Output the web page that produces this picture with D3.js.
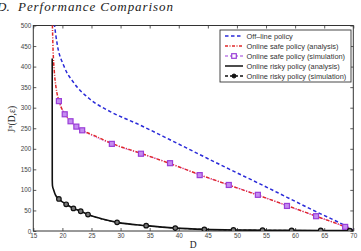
<!DOCTYPE html>
<html>
<head>
<meta charset="utf-8">
<script src="https://cdn.jsdelivr.net/npm/d3@7"></script>
<style>
  body { margin: 0; background: #fff; }
  svg { display: block; }
</style>
</head>
<body>
<script>
// Values
const xTicks = [15, 20, 25, 30, 35, 40, 45, 50, 55, 60, 65, 70]
const yTicks = [0, 50, 100, 150, 200, 250, 300, 350, 400, 450, 500]

const offlineD = [18.6, 19.1, 20.3, 22, 24.8, 28.3, 33, 38.5, 43.6, 48.6, 53.6, 58.6, 63.6, 68.6, 70]
const offlineJ = [505, 455, 400, 360, 320, 290, 260, 222, 186, 151, 117, 82, 47, 13, 2]

const safeD = [18.25, 18.4, 18.6, 18.9, 19.4, 20.4, 21.4, 22.4, 23.4, 25.5, 28.5, 33.5, 38.5, 43.6, 48.6, 53.6, 58.6, 63.6, 68.6, 70]
const safeJ = [520, 440, 390, 350, 317, 285, 267, 254, 245, 232, 213, 189, 164, 137, 112, 87, 62, 36, 10, 1]

const safeSimD = [19.4, 20.4, 21.4, 22.4, 23.4, 28.5, 33.5, 38.5, 43.6, 48.6, 53.6, 58.6, 63.6, 68.6]
const safeSimJ = [316, 284, 267, 254, 245, 212, 188, 165, 136, 112, 88, 61, 36, 10]

const riskyD = [18.25, 18.26, 18.3, 18.5, 18.8, 19.4, 20.65, 21.9, 23.15, 24.4, 26.9, 29.4, 34.4, 39.4, 44.4, 49.4, 54.4, 59.4, 64.4, 70]
const riskyJ = [420, 124, 110, 100, 88, 78, 65, 55, 48, 40, 29, 21, 13, 7, 4, 2.5, 2, 1.5, 1.2, 1]

const riskySimD = [19.4, 20.65, 21.9, 23.15, 24.4, 29.4, 34.4, 39.4, 44.4, 49.4, 54.4, 59.4, 64.4, 69.4]
const riskySimJ = [78, 65, 55, 48, 40, 21, 13, 7, 4, 2.5, 2, 1.5, 1.2, 1]

const legendLabels = [
  'Off\u2013line policy',
  'Online safe policy (analysis)',
  'Online safe policy (simulation)',
  'Online risky policy (analysis)',
  'Online risky policy (simulation)'
]

const blue = '#2a2ad8'
const red = '#e0282a'
const purple = '#9a3ed8'

const width = 361
const height = 251
const margin = {left: 33.3, right: 7.7, top: 25.5, bottom: 20}

const svg = d3.select('body').append('svg')
  .attr('width', width)
  .attr('height', height)

const xScale = d3.scaleLinear().domain([15, 70]).range([margin.left, width - margin.right])
const yScale = d3.scaleLinear().domain([0, 500]).range([height - margin.bottom, margin.top])

const zip = (xs, ys) => xs.map((x, i) => ({d: x, j: ys[i]}))

// title, the scan cuts it at the left
const titleFont = '"Liberation Serif", serif'
svg.append('text')
  .attr('x', -3)
  .attr('y', 10.5)
  .style('font-family', titleFont)
  .style('font-style', 'italic')
  .style('font-size', '13px')
  .attr('fill', '#222')
  .text('D.')
svg.append('text')
  .attr('x', 18)
  .attr('y', 10.5)
  .attr('textLength', 155)
  .style('font-family', titleFont)
  .style('font-style', 'italic')
  .style('font-size', '13px')
  .attr('fill', '#222')
  .text('Performance Comparison')

svg.append('clipPath').attr('id', 'plotclip')
  .append('rect')
  .attr('x', xScale(15))
  .attr('y', yScale(500))
  .attr('width', xScale(70) - xScale(15))
  .attr('height', yScale(0) - yScale(500))

// axes with inward ticks on all four sides
const tickLen = 3
const axisFont = '"Liberation Sans", Arial, sans-serif'

const gAxes = svg.append('g')
function styleAxis(g) {
  g.select('.domain').remove()
  g.selectAll('line').attr('stroke', '#333').attr('stroke-width', 0.8)
  g.selectAll('text').style('font-family', axisFont).style('font-size', '6.3px').attr('fill', '#444')
}

gAxes.append('g')
  .attr('transform', `translate(0,${yScale(0)})`)
  .call(d3.axisBottom(xScale).tickValues(xTicks).tickSize(-tickLen).tickPadding(2.5))
  .call(styleAxis)
gAxes.append('g')
  .attr('transform', `translate(0,${yScale(500)})`)
  .call(d3.axisTop(xScale).tickValues(xTicks).tickSize(-tickLen).tickFormat(''))
  .call(styleAxis)
gAxes.append('g')
  .attr('transform', `translate(${xScale(15)},0)`)
  .call(d3.axisLeft(yScale).tickValues(yTicks).tickSize(-tickLen).tickPadding(2))
  .call(styleAxis)
gAxes.append('g')
  .attr('transform', `translate(${xScale(70)},0)`)
  .call(d3.axisRight(yScale).tickValues(yTicks).tickSize(-tickLen).tickFormat(''))
  .call(styleAxis)

svg.append('rect')
  .attr('x', xScale(15))
  .attr('y', yScale(500))
  .attr('width', xScale(70) - xScale(15))
  .attr('height', yScale(0) - yScale(500))
  .attr('fill', 'none')
  .attr('stroke', '#333')
  .attr('stroke-width', 1)

// axis labels
svg.append('text')
  .attr('x', xScale(42.5))
  .attr('y', 248)
  .attr('text-anchor', 'middle')
  .style('font-family', titleFont)
  .style('font-size', '9.5px')
  .attr('fill', '#222')
  .text('D')

const yLab = svg.append('text')
  .attr('transform', `translate(15,${yScale(272)}) rotate(-90)`)
  .attr('text-anchor', 'middle')
  .style('font-family', titleFont)
  .style('font-size', '9.5px')
  .attr('fill', '#222')
yLab.append('tspan').text('J')
yLab.append('tspan').attr('dy', -3.5).style('font-size', '6.5px').text('\u03c0')
yLab.append('tspan').attr('dy', 3.5).text('(D,\u03b5)')

// curves
const line = d3.line()
  .curve(d3.curveMonotoneX)
  .x(p => xScale(p.d))
  .y(p => yScale(p.j))

const gPlot = svg.append('g').attr('clip-path', 'url(#plotclip)')

gPlot.append('path')
  .attr('d', line(zip(offlineD, offlineJ)))
  .attr('fill', 'none')
  .attr('stroke', blue)
  .attr('stroke-width', 1.5)
  .attr('stroke-dasharray', '3.5,2.5')

gPlot.append('path')
  .attr('d', line(zip(safeSimD, safeSimJ)))
  .attr('fill', 'none')
  .attr('stroke', '#d070f0')
  .attr('stroke-width', 1)
  .attr('stroke-dasharray', '1.5,1.5')

gPlot.append('path')
  .attr('d', line(zip(safeD, safeJ)))
  .attr('fill', 'none')
  .attr('stroke', red)
  .attr('stroke-width', 1.5)
  .attr('stroke-dasharray', '3.5,1.5,1,1.5')

gPlot.append('path')
  .attr('d', line(zip(riskyD, riskyJ)))
  .attr('fill', 'none')
  .attr('stroke', '#111')
  .attr('stroke-width', 1.6)

gPlot.append('path')
  .attr('d', line(zip(riskySimD, riskySimJ)))
  .attr('fill', 'none')
  .attr('stroke', '#111')
  .attr('stroke-width', 1)
  .attr('stroke-dasharray', '3,2')

const sq = 5
gPlot.selectAll('.sqMark')
  .data(zip(safeSimD, safeSimJ))
  .enter()
  .append('rect')
  .attr('class', 'sqMark')
  .attr('x', p => xScale(p.d) - sq / 2)
  .attr('y', p => yScale(p.j) - sq / 2)
  .attr('width', sq)
  .attr('height', sq)
  .attr('fill', '#c48cf0')
  .attr('stroke', purple)
  .attr('stroke-width', 1.2)

gPlot.selectAll('.ciMark')
  .data(zip(riskySimD, riskySimJ))
  .enter()
  .append('circle')
  .attr('class', 'ciMark')
  .attr('cx', p => xScale(p.d))
  .attr('cy', p => yScale(p.j))
  .attr('r', 2.3)
  .attr('fill', '#777')
  .attr('stroke', '#111')
  .attr('stroke-width', 1.2)

// legend
const lx = 220, ly = 30, lw = 131, lh = 52, rowH = 10
const gLeg = svg.append('g')
gLeg.append('rect')
  .attr('x', lx).attr('y', ly).attr('width', lw).attr('height', lh)
  .attr('fill', '#fff').attr('stroke', '#333').attr('stroke-width', 0.9)

const rows = gLeg.selectAll('.legRow')
  .data(legendLabels)
  .enter()
  .append('g')
  .attr('class', 'legRow')
  .attr('transform', (d, i) => `translate(${lx + 5},${ly + 6 + i * rowH})`)

rows.append('text')
  .attr('x', 21.5)
  .attr('y', 2.6)
  .style('font-family', axisFont)
  .style('font-size', '7.4px')
  .attr('fill', '#333')
  .text(d => d)

const legStyles = [
  {stroke: blue, dash: '3.5,2.5', w: 1.4},
  {stroke: red, dash: '3,1.5,1,1.5', w: 1.3},
  {stroke: purple, dash: '3,2', w: 1.2},
  {stroke: '#111', dash: null, w: 1.5},
  {stroke: '#111', dash: '3,2', w: 1.3}
]
rows.append('line')
  .attr('x1', 0).attr('x2', 18).attr('y1', 0).attr('y2', 0)
  .attr('stroke', (d, i) => legStyles[i].stroke)
  .attr('stroke-width', (d, i) => legStyles[i].w)
  .attr('stroke-dasharray', (d, i) => legStyles[i].dash)

rows.filter((d, i) => i === 2).append('rect')
  .attr('x', 9 - 2.3).attr('y', -2.3).attr('width', 4.6).attr('height', 4.6)
  .attr('fill', '#fff').attr('stroke', purple).attr('stroke-width', 1.2)
rows.filter((d, i) => i === 4).append('circle')
  .attr('cx', 9).attr('cy', 0).attr('r', 2)
  .attr('fill', '#111').attr('stroke', '#111')
</script>
</body>
</html>
